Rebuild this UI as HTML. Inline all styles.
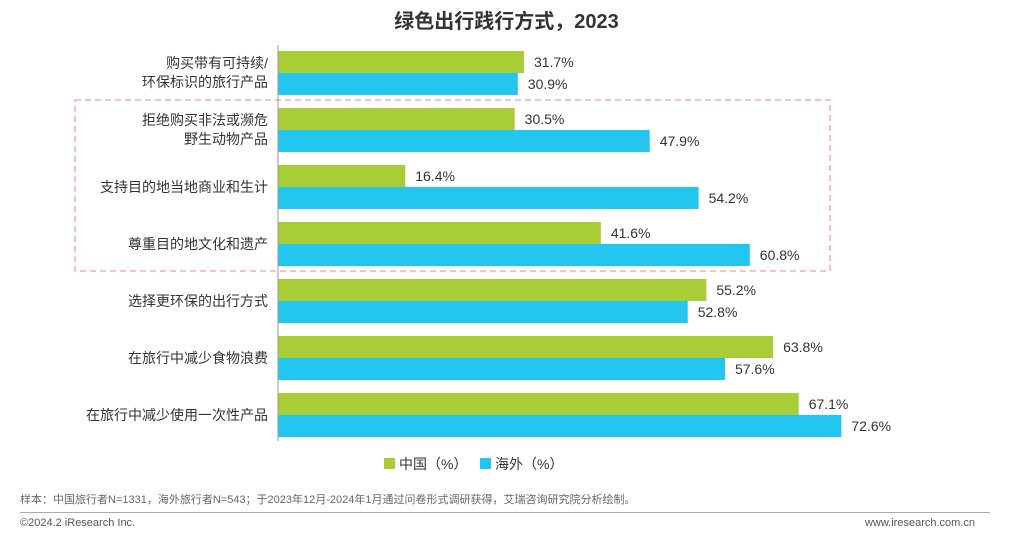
<!DOCTYPE html>
<html><head><meta charset="utf-8">
<style>
body{margin:0;width:1013px;height:537px;background:#fff;font-family:"Liberation Sans","Noto Sans CJK SC",sans-serif;overflow:hidden;position:relative}
.t{position:absolute;white-space:nowrap}
</style></head><body>
<div class="t" style="left:0;width:1013px;text-align:center;top:5px;font-size:20px;font-weight:bold;color:#333">绿色出行践行方式，2023</div>
<svg id="chart" width="1013" height="480" style="position:absolute;left:0;top:0"></svg>
<div class="t" style="left:384px;top:454px;font-size:14px;color:#333"><span style="display:inline-block;width:11px;height:11px;background:#a9cd37;margin-right:4px"></span>中国（%）</div>
<div class="t" style="left:480px;top:454px;font-size:14px;color:#333"><span style="display:inline-block;width:11px;height:11px;background:#22c6ef;margin-right:4px"></span>海外（%）</div>
<div class="t" style="left:20px;top:491px;font-size:11px;color:#666">样本：中国旅行者N=1331，海外旅行者N=543；于2023年12月-2024年1月通过问卷形式调研获得，艾瑞咨询研究院分析绘制。</div>
<div style="position:absolute;left:20px;top:512px;width:970px;height:1px;background:#aaa"></div>
<div class="t" style="left:20px;top:517px;font-size:11px;color:#555">©2024.2 iResearch Inc.</div>
<div class="t" style="right:38px;top:517px;font-size:11px;color:#555">www.iresearch.com.cn</div>
<script>
const categories=[["购买带有可持续/","环保标识的旅行产品"],["拒绝购买非法或濒危","野生动物产品"],["支持目的地当地商业和生计"],["尊重目的地文化和遗产"],["选择更环保的出行方式"],["在旅行中减少食物浪费"],["在旅行中减少使用一次性产品"]];
const chinaValues=[31.7,30.5,16.4,41.6,55.2,63.8,67.1];
const overseasValues=[30.9,47.9,54.2,60.8,52.8,57.6,72.6];
const svg=document.getElementById('chart');
const NS='http://www.w3.org/2000/svg';
const x0=278,scale=7.76;
const xPos=v=>x0+v*scale;
const yPos=i=>51+i*57;
function mk(tag,attrs,text){const e=document.createElementNS(NS,tag);for(const k in attrs)e.setAttribute(k,attrs[k]);if(text!==undefined)e.textContent=text;svg.appendChild(e);return e;}
const box=mk('rect',{x:75,y:100,width:755,height:171,fill:'none',stroke:'#f0a0a8','stroke-width':1.3,'stroke-dasharray':'6,4'});


categories.forEach((c,i)=>{
  const y=yPos(i);
  const g=mk('rect',{x:x0,y:y,width:xPos(chinaValues[i])-x0,height:22,fill:'#a9cd37'});
  
  
  const b=mk('rect',{x:x0,y:y+22,width:xPos(overseasValues[i])-x0,height:22,fill:'#22c6ef'});
  
  
  const l1=mk('text',{x:xPos(chinaValues[i])+10,y:y+16,'font-size':14,fill:'#333'},chinaValues[i].toFixed(1)+'%');
  
  
  const l2=mk('text',{x:xPos(overseasValues[i])+10,y:y+38,'font-size':14,fill:'#333'},overseasValues[i].toFixed(1)+'%');
  
  
  c.forEach((line,j)=>{
    const ty=c.length===1?y+27:y+17+j*19;
    const t=mk('text',{x:268,y:ty,'font-size':14,fill:'#333','text-anchor':'end'},line);
    
    
  });
});
const ax=mk('line',{x1:x0,y1:45,x2:x0,y2:441,stroke:'#999','stroke-width':1});


</script>
</body></html>
